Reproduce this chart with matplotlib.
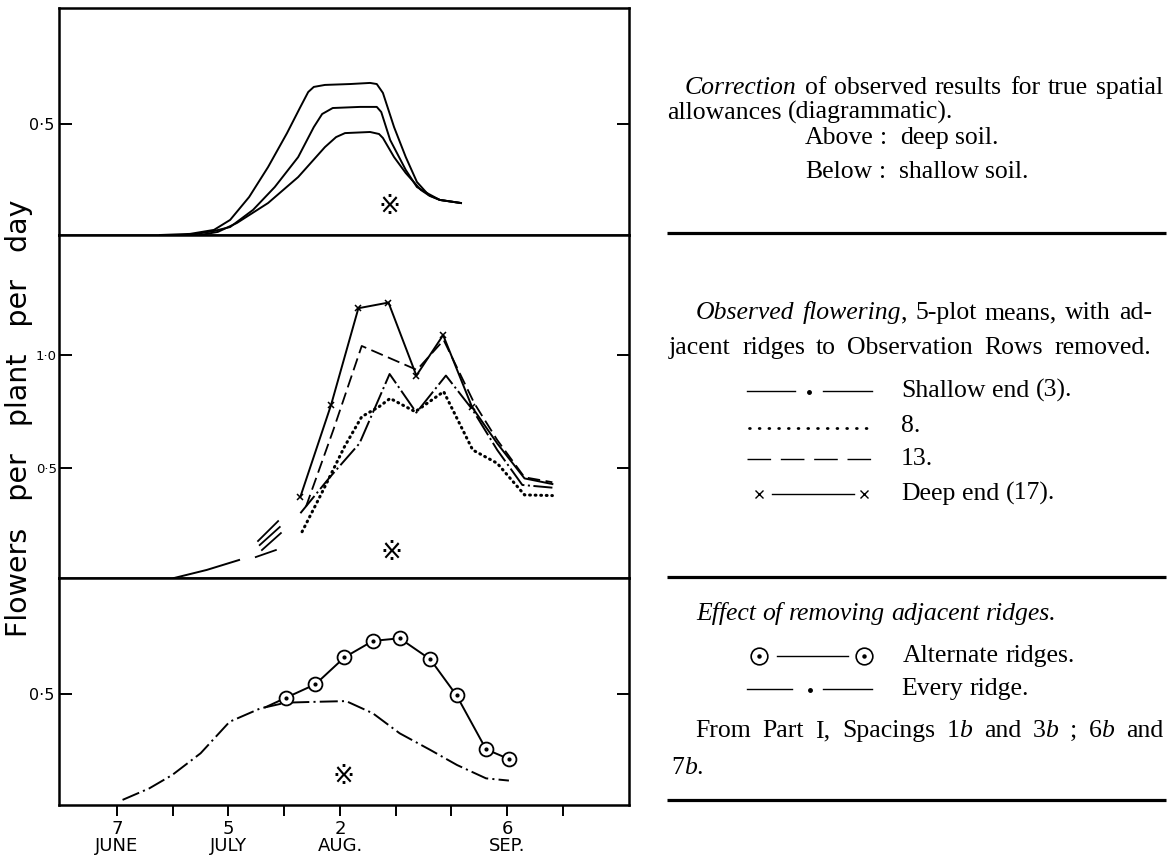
import matplotlib
matplotlib.use('Agg')
import matplotlib.pyplot as plt

plt.rcParams['lines.scale_dashes'] = False
plt.rcParams['font.family'] = ['DejaVu Sans']

# x axis unit = one tick interval (fortnight) starting 7 June
tick_pos = [0, 1, 2, 3, 4, 5, 6, 7, 8]
tick_labels = ['7\nJUNE', '', '5\nJULY', '', '2\nAUG.', '', '', '6\nSEP.', '']

# --- top panel: corrected curves (diagrammatic) ---
outer_x = [0.77, 1.31, 1.74, 2.03, 2.37, 2.71, 3.05, 3.28, 3.43, 3.53, 3.73, 4.18, 4.54, 4.66,
           4.77, 4.97, 5.18, 5.38, 5.59, 5.79, 6.17]
outer_y = [0.000, 0.005, 0.023, 0.068, 0.171, 0.306, 0.459, 0.572, 0.644, 0.667, 0.676, 0.680, 0.685, 0.680,
           0.640, 0.486, 0.351, 0.239, 0.180, 0.158, 0.144]
mid_x = [1.31, 1.74, 2.03, 2.44, 2.83, 3.25, 3.53, 3.68, 3.87, 4.36, 4.66, 4.74, 4.90, 5.18, 5.38,
         5.59, 5.79, 6.17]
mid_y = [0.000, 0.018, 0.036, 0.113, 0.216, 0.351, 0.486, 0.545, 0.572, 0.577, 0.577, 0.554, 0.428, 0.293, 0.216,
         0.185, 0.158, 0.144]
inner_x = [1.49, 1.81, 2.15, 2.71, 3.25, 3.73, 3.93, 4.09, 4.54, 4.70, 4.77, 4.97, 5.18, 5.45, 5.61, 5.79, 6.17]
inner_y = [0.000, 0.014, 0.054, 0.144, 0.261, 0.396, 0.441, 0.459, 0.464, 0.455, 0.437, 0.351, 0.279, 0.203,
           0.176, 0.158, 0.144]

# --- middle panel: observed flowering ---
early_x = [1.02, 1.61, 2.19]
early_y = [0.013, 0.049, 0.093]
strokes = [([2.53, 2.89], [0.177, 0.265]),
           ([2.56, 2.92], [0.159, 0.239]),
           ([2.60, 2.94], [0.137, 0.212]),
           ([2.49, 2.85], [0.106, 0.137])]
deep_x = [3.29, 3.84, 4.33, 4.87, 5.37, 5.85, 6.37, 6.82, 7.31, 7.81]
deep_y = [0.373, 0.779, 1.207, 1.232, 0.909, 1.088, 0.769, 0.609, 0.454, 0.429]
r13_x = [3.39, 3.88, 4.39, 5.38, 5.86, 6.41, 6.82, 7.31, 7.81]
r13_y = [0.329, 0.668, 1.040, 0.934, 1.066, 0.786, 0.624, 0.459, 0.437]
shallow_x = [3.29, 3.80, 4.35, 4.89, 5.37, 5.90, 6.38, 6.82, 7.27, 7.81]
shallow_y = [0.300, 0.454, 0.609, 0.916, 0.745, 0.909, 0.757, 0.580, 0.425, 0.413]
r8_x = [3.32, 3.67, 4.08, 4.39, 4.70, 4.90, 5.35, 5.86, 6.38, 6.82, 7.31, 7.81]
r8_y = [0.218, 0.388, 0.594, 0.727, 0.771, 0.808, 0.749, 0.838, 0.580, 0.521, 0.381, 0.378]

# --- bottom panel: effect of removing adjacent ridges ---
alt_x = [2.66, 3.03, 3.56, 4.08, 4.59, 5.07, 5.62, 6.09, 6.62, 7.03]
alt_y = [0.440, 0.483, 0.544, 0.665, 0.739, 0.751, 0.656, 0.494, 0.251, 0.207]
every_x = [0.10, 0.58, 0.99, 1.50, 2.02, 2.57, 3.03, 3.60, 4.11, 4.59, 5.07, 5.62, 6.10, 6.62, 7.03]
every_y = [0.023, 0.075, 0.135, 0.233, 0.375, 0.435, 0.461, 0.465, 0.468, 0.413, 0.323, 0.248, 0.180,
           0.120, 0.110]

# reference marks (※) per panel
ref_marks = [(4.89, 0.126), (4.93, 0.124), (4.07, 0.126)]

top_lines = ['_Correction_ of observed results for true spatial',
             'allowances (diagrammatic).',
             'Above :  deep soil.',
             'Below :  shallow soil.']
mid_lines = ['_Observed flowering_, 5-plot means, with ad-',
             'jacent ridges to Observation Rows removed.']
mid_legend = ['Shallow end (3).', '8.', '13.', 'Deep end (17).']
bot_lines = ['_Effect of removing adjacent ridges._',
             'From Part I, Spacings 1_b_ and 3_b_ ; 6_b_ and',
             '7_b_.']
bot_legend = ['Alternate ridges.', 'Every ridge.']

W, H = 1168, 856
fig = plt.figure(figsize=(W / 100, H / 100), dpi=100)


def px_axes(x0, y0, x1, y1):
    return fig.add_axes([x0 / W, 1 - y1 / H, (x1 - x0) / W, (y1 - y0) / H])


ax_top = px_axes(59, 8, 629, 235)
ax_mid = px_axes(59, 235, 629, 578)
ax_bot = px_axes(59, 578, 629, 805)

k = 'black'
lw = 1.4
dash_dot = (0, (13, 3, 1.5, 3))

ax_top.plot(outer_x, outer_y, color=k, lw=lw)
ax_top.plot(mid_x, mid_y, color=k, lw=lw)
ax_top.plot(inner_x, inner_y, color=k, lw=lw)

ax_mid.plot(early_x, early_y, color=k, lw=lw)
for sx, sy in strokes:
    ax_mid.plot(sx, sy, color=k, lw=1.3)
ax_mid.plot(deep_x, deep_y, color=k, lw=lw, marker='x', ms=5, mew=1.1, markevery=list(range(7)))
ax_mid.plot(r13_x, r13_y, color=k, lw=1.3, ls=(0, (9, 4)))
ax_mid.plot(shallow_x, shallow_y, color=k, lw=lw, ls=(0, (16, 2.5, 1.5, 2.5)))
ax_mid.plot(r8_x, r8_y, color=k, lw=2.2, ls=(0, (0.6, 3.4)), dash_capstyle='round')

ax_bot.plot(every_x, every_y, color=k, lw=lw, ls=dash_dot)
ax_bot.plot(alt_x, alt_y, color=k, lw=lw)
ax_bot.plot(alt_x[1:], alt_y[1:], ls='none', marker='o', ms=10, mfc='white', mec=k, mew=1.3)
ax_bot.plot(alt_x[1:], alt_y[1:], ls='none', marker='o', ms=2, color=k)

for ax, (mx, my) in zip([ax_top, ax_mid, ax_bot], ref_marks):
    ax.text(mx, my, '※', fontsize=19, ha='center', va='center', family='DejaVu Sans')

ax_top.set_ylim(0, 1.0225)
ax_mid.set_ylim(0.0133, 1.531)
ax_bot.set_ylim(0, 1.0225)
ax_top.set_yticks([0.5], ['0·5'])
ax_mid.set_yticks([0.5, 1.0], ['0·5', '1·0'])
ax_bot.set_yticks([0.5], ['0·5'])

for ax in [ax_top, ax_mid, ax_bot]:
    ax.set_xlim(-1.04, 9.184)
    ax.set_xticks(tick_pos)
    for s in ax.spines.values():
        s.set_linewidth(1.8)
    ax.tick_params(axis='y', direction='in', left=True, right=True, length=9, width=1.4,
                   labelsize=11.5, pad=3)
    ax.tick_params(axis='x', direction='out', length=8, width=1.4)
ax_mid.tick_params(axis='y', labelsize=9.5, pad=1.5)

ax_top.tick_params(axis='x', bottom=False, labelbottom=False)
ax_mid.tick_params(axis='x', labelbottom=False)
ax_bot.set_xticklabels(tick_labels, fontsize=13, linespacing=0.9)
ax_bot.tick_params(axis='x', pad=3)

fig.text(19 / W, 1 - 418 / H, 'Flowers   per   plant   per   day', rotation=90, fontsize=20.5,
         ha='center', va='center', family='DejaVu Sans')

# --- text column on the right, laid out in pixel coordinates ---
ax_txt = fig.add_axes([0, 0, 1, 1])
ax_txt.set_xlim(0, W)
ax_txt.set_ylim(H, 0)
ax_txt.axis('off')
renderer = fig.canvas.get_renderer()
TXT = 18.5
SERIF = 'Liberation Serif'


def parse(line):
    italic = False
    words = []
    for token in line.split(' '):
        pieces = []
        for i, seg in enumerate(token.split('_')):
            if i > 0:
                italic = not italic
            if seg:
                pieces.append((seg, italic))
        words.append(pieces)
    return words


def put_line(line, x0, y, x1=None):
    items = []
    for word in parse(line):
        parts = []
        for s, it in word:
            t = ax_txt.text(0, y, s, fontsize=TXT, family=SERIF, style='italic' if it else 'normal',
                            va='baseline', ha='left')
            parts.append((t, t.get_window_extent(renderer).width))
        items.append(parts)
    widths = [sum(w for _, w in parts) for parts in items]
    if x1 is None or len(items) < 2:
        gap = TXT * 0.25 * 100 / 72
    else:
        gap = (x1 - x0 - sum(widths)) / (len(items) - 1)
    x = x0
    for parts, wsum in zip(items, widths):
        xx = x
        for t, w in parts:
            t.set_x(xx)
            xx += w
        x += wsum + gap


put_line(top_lines[0], 685, 94, 1163)
put_line(top_lines[1], 667, 119)
put_line(top_lines[2], 805, 144)
put_line(top_lines[3], 805, 178)

put_line(mid_lines[0], 696, 319, 1152)
put_line(mid_lines[1], 669, 354, 1151)
for lab, yy in zip(mid_legend, [397, 432, 465, 500]):
    put_line(lab, 901, yy)

put_line(bot_lines[0], 696, 620)
put_line(bot_legend[0], 903, 662)
put_line(bot_legend[1], 901, 695)
put_line(bot_lines[1], 695, 737, 1163)
put_line(bot_lines[2], 671, 774)

for yy in [233, 577, 800]:
    ax_txt.plot([667, 1166], [yy, yy], color=k, lw=2.3, solid_capstyle='butt')

# legend samples
ax_txt.plot([747, 795], [391, 391], color=k, lw=1.0)
ax_txt.plot([809], [392], 'o', ms=2.5, color=k)
ax_txt.plot([823, 872], [391, 391], color=k, lw=1.0)
ax_txt.plot([749, 872], [428, 428], color=k, lw=2.0, ls=(0, (0.6, 6.4)), dash_capstyle='round')
ax_txt.plot([747, 873], [459, 459], color=k, lw=1.0, ls=(0, (17, 7)))
ax_txt.plot([772, 854], [494, 494], color=k, lw=1.0)
ax_txt.plot([759, 864], [494, 494], ls='none', marker='x', ms=6, mew=1.0, color=k)

ax_txt.plot([777, 848], [656, 656], color=k, lw=1.0)
ax_txt.plot([759, 864], [656, 656], ls='none', marker='o', ms=12, mfc='white', mec=k, mew=1.2)
ax_txt.plot([759, 864], [656, 656], ls='none', marker='o', ms=2.2, color=k)
ax_txt.plot([747, 792], [689, 689], color=k, lw=1.0)
ax_txt.plot([810], [690], 'o', ms=2.5, color=k)
ax_txt.plot([823, 872], [689, 689], color=k, lw=1.0)

fig.savefig('out.png', dpi=100)
